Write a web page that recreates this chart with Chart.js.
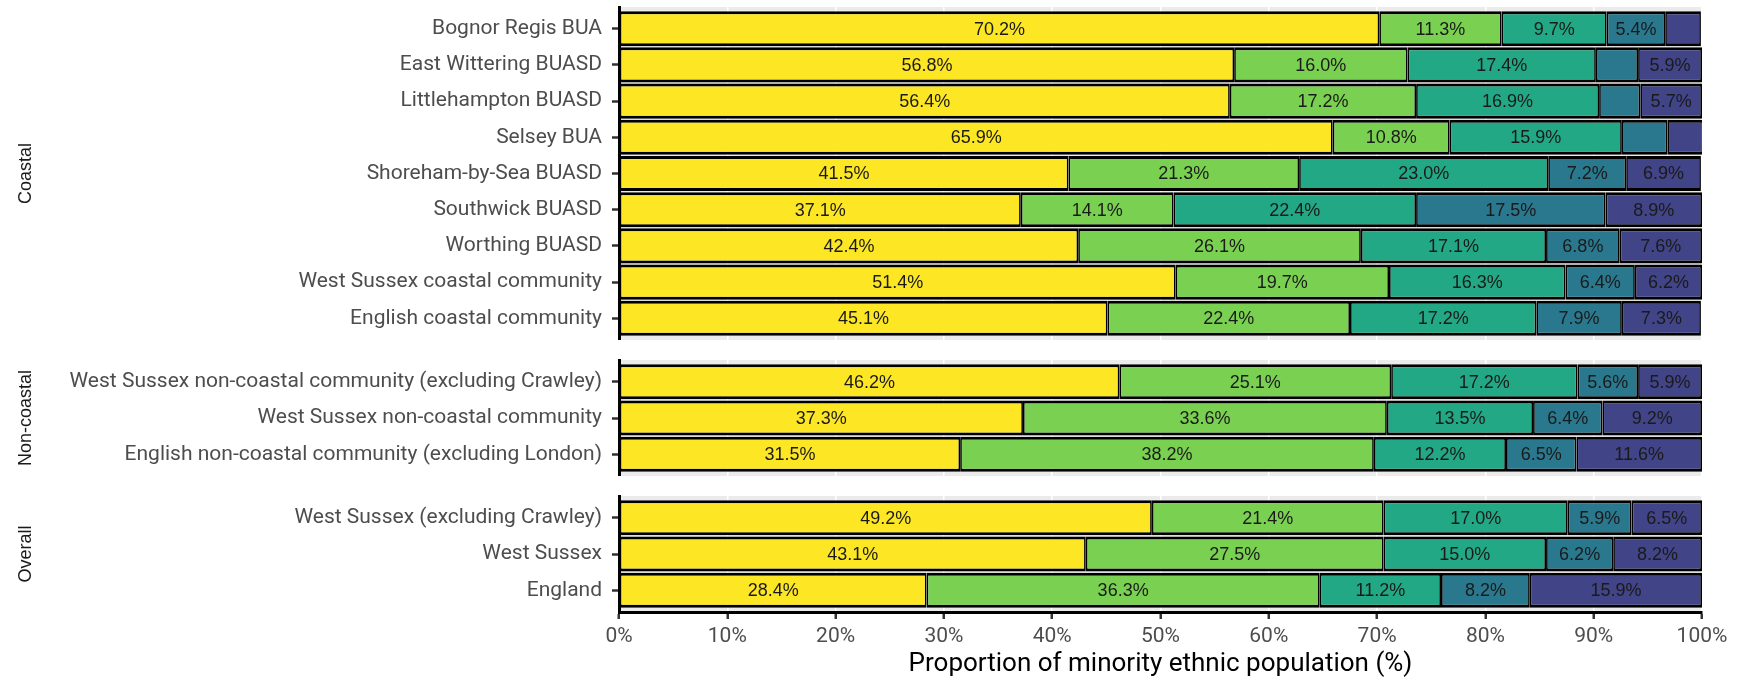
<!DOCTYPE html>
<html lang="en">
<head>
  <meta charset="UTF-8">
  <title>Proportion of minority ethnic population</title>
  <script src="https://cdn.jsdelivr.net/npm/chart.js"></script>
  <style>
    body {
      margin: 0;
      width: 1739px;
      height: 682px;
      overflow: hidden;
      background: #fff;
      position: relative;
    }
    canvas {
      position: absolute;
      left: 0;
    }
  </style>
</head>
<body>

  <script>
    // categories, top to bottom, grouped into facet panels
    const categories = [
      'Bognor Regis BUA', 'East Wittering BUASD', 'Littlehampton BUASD', 'Selsey BUA',
      'Shoreham-by-Sea BUASD', 'Southwick BUASD', 'Worthing BUASD',
      'West Sussex coastal community', 'English coastal community',
      'West Sussex non-coastal community (excluding Crawley)', 'West Sussex non-coastal community',
      'English non-coastal community (excluding London)',
      'West Sussex (excluding Crawley)', 'West Sussex', 'England'
    ];
    const panelNames = ['Coastal', 'Non-coastal', 'Overall'];
    const panelSizes = [9, 3, 3];

    // share of the minority ethnic population (%), one array per group
    const whiteOther  = [70.2, 56.8, 56.4, 65.9, 41.5, 37.1, 42.4, 51.4, 45.1, 46.2, 37.3, 31.5, 49.2, 43.1, 28.4];
    const asian       = [11.3, 16.0, 17.2, 10.8, 21.3, 14.1, 26.1, 19.7, 22.4, 25.1, 33.6, 38.2, 21.4, 27.5, 36.3];
    const mixed       = [9.7, 17.4, 16.9, 15.9, 23.0, 22.4, 17.1, 16.3, 17.2, 17.2, 13.5, 12.2, 17.0, 15.0, 11.2];
    const otherEthnic = [5.4, 3.9, 3.8, 4.2, 7.2, 17.5, 6.8, 6.4, 7.9, 5.6, 6.4, 6.5, 5.9, 6.2, 8.2];
    const black       = [3.3, 5.9, 5.7, 3.3, 6.9, 8.9, 7.6, 6.2, 7.3, 5.9, 9.2, 11.6, 6.5, 8.2, 15.9];

    const seriesColours = ['#FDE725', '#7AD151', '#22A884', '#2A788E', '#414487'];
    const series = [whiteOther, asian, mixed, otherEthnic, black];

    // layout (px)
    const W = 1739;
    const axisLeft = 619, axisRight = 1702;
    const unit = 36.2;          // one category step
    const panelGap = 20;
    const firstTop = 7;
    const bottomAxisH = 70;

    const panelBg = {
      id: 'panelBg',
      beforeDraw(chart) {
        const {ctx, chartArea: a} = chart;
        ctx.save();
        ctx.fillStyle = '#ebebeb';
        ctx.fillRect(a.left, a.top, a.right - a.left, a.bottom - a.top);
        ctx.restore();
      }
    };

    const barLabels = {
      id: 'barLabels',
      afterDatasetsDraw(chart) {
        const ctx = chart.ctx;
        ctx.save();
        ctx.font = '18px "Liberation Sans", Arial, sans-serif';
        ctx.fillStyle = '#1a1a1a';
        ctx.textAlign = 'center';
        ctx.textBaseline = 'middle';
        chart.data.datasets.forEach((ds, i) => {
          chart.getDatasetMeta(i).data.forEach((bar, j) => {
            const v = ds.data[j].x;
            if (v < 5) return;
            const p = bar.getProps(['x', 'y', 'base'], true);
            ctx.fillText(v.toFixed(1) + '%', (p.x + p.base) / 2, p.y + 1);
          });
        });
        ctx.restore();
      }
    };

    let start = 0;
    let panelTop = firstTop;
    panelNames.forEach((name, p) => {
      const n = panelSizes[p];
      const labels = categories.slice(start, start + n);
      const isLast = p === panelNames.length - 1;
      const panelH = (n + 0.2) * unit;
      const padTop = 7;
      const canvasH = padTop + panelH + (isLast ? bottomAxisH : 0);

      const canvas = document.createElement('canvas');
      canvas.width = W;
      canvas.height = Math.round(canvasH);
      canvas.style.top = (panelTop - padTop) + 'px';
      document.body.appendChild(canvas);

      const datasets = series.map((vals, k) => ({
        label: 'g' + k,
        data: vals.slice(start, start + n).map((v, i) => ({x: v, y: i})),
        backgroundColor: seriesColours[k],
        borderColor: '#000',
        borderWidth: {top: 3, bottom: 3, left: 1.7, right: 1.7},
        borderSkipped: false,
        barPercentage: 0.97,
        categoryPercentage: 1
      }));

      new Chart(canvas.getContext('2d'), {
        type: 'bar',
        data: {datasets},
        plugins: [panelBg, barLabels],
        options: {
          indexAxis: 'y',
          responsive: false,
          animation: false,
          events: [],
          layout: {padding: {top: padTop, right: W - axisRight, bottom: 0, left: 0}},
          plugins: {legend: {display: false}, tooltip: {enabled: false}},
          scales: {
            y: {
              type: 'linear',
              stacked: true,
              reverse: true,
              offset: false,
              bounds: 'data',
              min: -0.6,
              max: n - 0.4,
              afterBuildTicks(s) { s.ticks = labels.map((_, i) => ({value: i})); },
              afterFit(s) { s.width = axisLeft; s.paddingTop = 0; s.paddingBottom = 0; },
              ticks: {
                padding: 10,
                color: '#4d4d4d',
                font: {family: 'Roboto', size: 21},
                callback: v => labels[v] ?? ''
              },
              grid: {offset: false, drawOnChartArea: false, tickLength: 7, tickColor: '#333', tickWidth: 2.5},
              border: {display: true, color: '#000', width: 3},
              title: {
                display: true,
                text: name,
                color: '#1a1a1a',
                font: {family: '"Liberation Sans", Arial, sans-serif', size: 18},
                padding: {top: 15, bottom: 0}
              }
            },
            x: {
              type: 'linear',
              stacked: true,
              min: 0,
              max: 100,
              afterFit(s) { s.height = isLast ? bottomAxisH : 0; },
              ticks: {
                display: isLast,
                stepSize: 10,
                padding: 5,
                color: '#4d4d4d',
                font: {family: 'Roboto', size: 21},
                callback: v => v + '%'
              },
              grid: {color: '#fff', lineWidth: 1.5, drawTicks: isLast, tickLength: 7, tickColor: '#333', tickWidth: 2.5},
              border: {display: isLast, color: '#000', width: 3},
              title: {
                display: isLast,
                text: 'Proportion of minority ethnic population (%)',
                color: '#000',
                font: {family: 'Roboto', size: 26},
                padding: {top: 0, bottom: 2}
              }
            }
          }
        }
      });

      start += n;
      panelTop += panelH + panelGap;
    });
  </script>

</body>
</html>
